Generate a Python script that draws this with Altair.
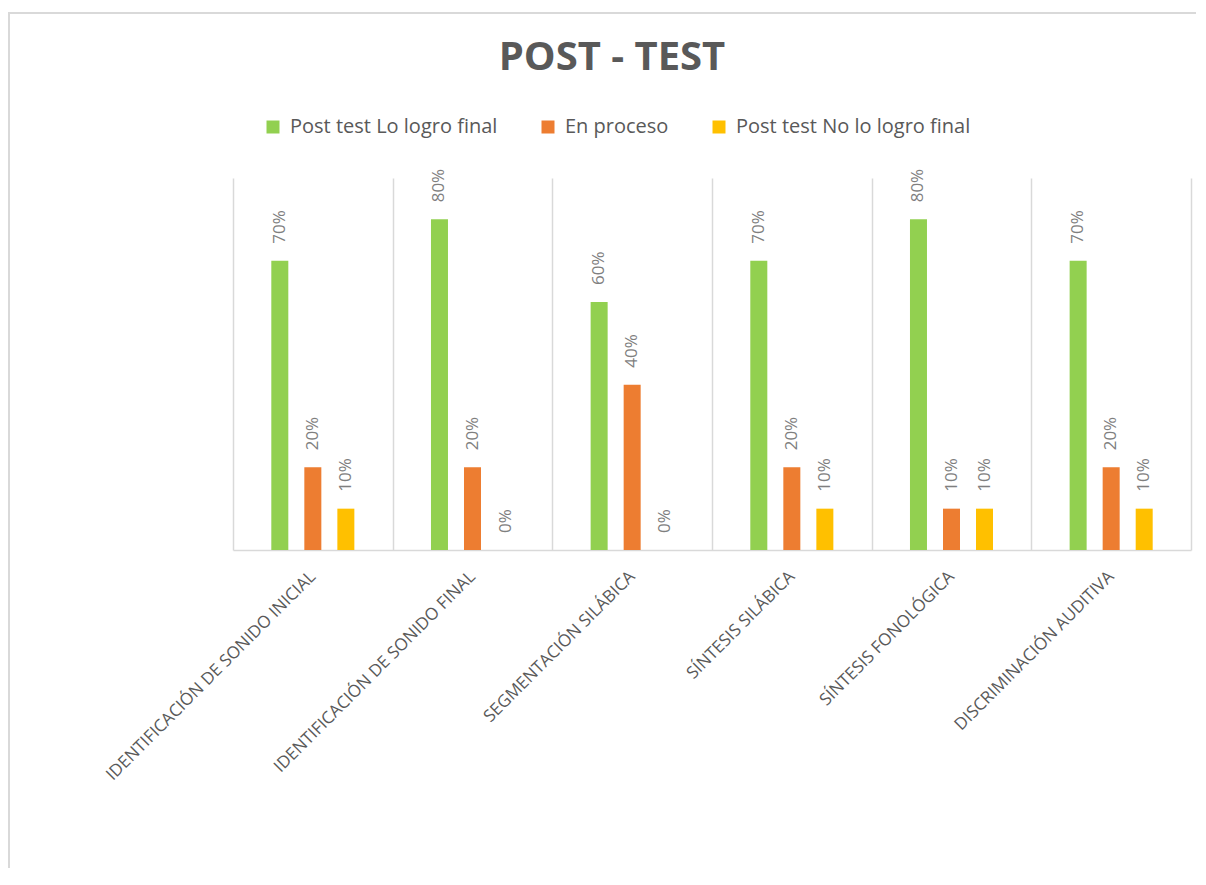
import altair as alt
import pandas as pd

categories = [
    "IDENTIFICACIÓN DE SONIDO INICIAL",
    "IDENTIFICACIÓN DE SONIDO FINAL",
    "SEGMENTACIÓN SILÁBICA",
    "SÍNTESIS SILÁBICA",
    "SÍNTESIS FONOLÓGICA",
    "DISCRIMINACIÓN AUDITIVA",
]
series = ["Post test Lo logro final", "En proceso", "Post test No lo logro final"]
colors = ["#92D050", "#ED7D31", "#FFC000"]
lo_logro = [0.7, 0.8, 0.6, 0.7, 0.8, 0.7]
en_proceso = [0.2, 0.2, 0.4, 0.2, 0.1, 0.2]
no_logro = [0.1, 0.0, 0.0, 0.1, 0.1, 0.1]

rows = []
for i, c in enumerate(categories):
    for s, vals in zip(series, [lo_logro, en_proceso, no_logro]):
        rows.append({"cat": c, "series": s, "value": vals[i]})
df = pd.DataFrame(rows)

W, H = 958, 372
PL, PT, PR, PB = 225, 170, 5, 318

# slot domain with empty side slots to mimic Excel's wide gap
slot_domain = ["_left"] + series + ["_right"]

x_enc = alt.X(
    "cat:N",
    sort=categories,
    scale=alt.Scale(paddingInner=0, paddingOuter=0),
    axis=alt.Axis(
        title=None,
        grid=True,
        gridColor="#d9d9d9",
        gridWidth=1.5,
        tickBand="extent",
        ticks=False,
        domainColor="#d9d9d9",
        domainWidth=1.5,
        labelAngle=-45,
        labelAlign="right",
        labelBaseline="top",
        labelPadding=18,
        labelOffset=-6,
        labelFont="Open Sans",
        labelFontSize=17,
        labelColor="#595959",
        labelLimit=0,
    ),
)
xoff = alt.XOffset(
    "series:N",
    scale=alt.Scale(domain=slot_domain, paddingInner=0.485, paddingOuter=0.16),
)
y_enc = alt.Y("value:Q", scale=alt.Scale(domain=[0, 0.9], nice=False), axis=None)

base = alt.Chart(df)

bars = base.mark_bar().encode(
    x=x_enc,
    xOffset=xoff,
    y=y_enc,
    color=alt.Color(
        "series:N",
        sort=series,
        scale=alt.Scale(domain=series, range=colors),
        legend=alt.Legend(
            orient="none",
            legendX=30,
            legendY=-61,
            direction="horizontal",
            title=None,
            symbolType="square",
            symbolSize=169,
            symbolStrokeWidth=0,
            labelFont="Open Sans",
            labelFontSize=20,
            labelColor="#595959",
            labelOffset=7,
            columnPadding=40,
            labelLimit=0,
        ),
    ),
)

labels = base.mark_text(
    angle=270,
    align="left",
    baseline="middle",
    dx=17,
    font="Open Sans",
    fontSize=17,
    color="#7f7f7f",
).encode(
    x=alt.X("cat:N", sort=categories),
    xOffset=alt.XOffset("series:N"),
    y=alt.Y("value:Q"),
    text=alt.Text("value:Q", format=".0%"),
)

border = alt.Chart(pd.DataFrame({"a": [0]})).mark_rect(
    fill="transparent", stroke="#d9d9d9", strokeWidth=2
).encode(
    x=alt.value(-224), x2=alt.value(1100), y=alt.value(-165), y2=alt.value(900)
)

chart = (
    alt.layer(border, bars, labels)
    .properties(
        width=W,
        height=H,
        autosize=alt.AutoSizeParams(type="none"),
        padding={"left": PL, "top": PT, "right": PR, "bottom": PB},
        title=alt.TitleParams(
            "POST - TEST",
            font="Open Sans",
            fontSize=40,
            fontWeight="bold",
            color="#595959",
            anchor="middle",
            dx=-100,
            offset=-66,
        ),
    )
    .configure_view(stroke=None)
)

chart.save("out.html", embed_options={"renderer": "svg", "actions": False})
